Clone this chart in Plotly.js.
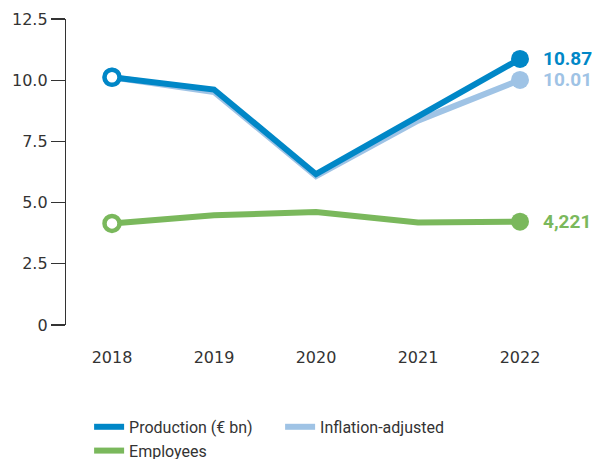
<!DOCTYPE html>
<html><head><meta charset="utf-8">
<script src="https://cdn.plot.ly/plotly-3.0.1.min.js"></script>
<style>html,body{margin:0;padding:0;background:#fff}</style>
</head><body>
<div id="chart" style="width:598px;height:459px"></div>
<script>
const years = [2018, 2019, 2020, 2021, 2022];
const tickLabels = ["2018", "2019", "2020", "2021", "2022"];
const production = [10.12, 9.62, 6.16, 8.5, 10.87];
const inflationAdjusted = [10.12, 9.52, 6.08, 8.35, 10.01];
const employees = [4.15, 4.48, 4.62, 4.19, 4.221];
const endLabels = ["10.87", "10.01", "4,221"];

const cProd = "#0087c7", cInfl = "#9fc3e5", cEmp = "#7ab85c";

function lineTrace(y, name, color, rank){
  return {x: years, y: y, name: name, mode: "lines", legendrank: rank,
          line: {color: color, width: 6}};
}
function markerTrace(y, color){
  return {x: [years[0], years[4]], y: [y[0], y[4]], mode: "markers", showlegend: false,
          marker: {size: [15, 18], opacity: 1, color: ["#ffffff", color],
                   line: {color: color, width: [4.5, 0]}}};
}

const traces = [
  lineTrace(inflationAdjusted, "Inflation-adjusted", cInfl, 2),
  markerTrace(inflationAdjusted, cInfl),
  lineTrace(production, "Production (€ bn)", cProd, 1),
  markerTrace(production, cProd),
  lineTrace(employees, "Employees", cEmp, 3),
  markerTrace(employees, cEmp)
];

const endVals = [production[4], inflationAdjusted[4], employees[4]];
const endColors = [cProd, cInfl, cEmp];
const annotations = endLabels.map((t, i) => ({
  x: years[4], y: endVals[i], xref: "x", yref: "y", text: "<b>" + t + "</b>",
  showarrow: false, xanchor: "left", xshift: 21,
  font: {family: "Roboto", size: 19, color: endColors[i]}
}));

const tickFont = {family: "DejaVu Sans", size: 16, color: "#333"};

const layout = {
  width: 598, height: 459,
  margin: {l: 66, r: 32, t: 19, b: 134},
  paper_bgcolor: "#fff", plot_bgcolor: "#fff",
  showlegend: true,
  legend: {orientation: "h", xref: "container", yref: "container", x: 0.149, y: 0.107,
           xanchor: "left", yanchor: "top", entrywidth: 146, tracegroupgap: 0,
           font: {family: "Roboto", size: 16, color: "#333"}, traceorder: "normal"},
  xaxis: {range: [2017.549, 2022.451], tickvals: years, ticktext: tickLabels,
          showgrid: false, zeroline: false, showline: false,
          ticks: "outside", ticklen: 18, tickcolor: "rgba(0,0,0,0)",
          tickfont: tickFont},
  yaxis: {range: [0, 12.5], tickvals: [0, 2.5, 5, 7.5, 10, 12.5],
          ticktext: ["0", "2.5", "5.0", "7.5", "10.0", "12.5"],
          showgrid: false, zeroline: false, showline: true, linecolor: "#333", linewidth: 1.2,
          ticks: "outside", ticklen: 14, tickcolor: "#333", tickwidth: 1.2,
          tickfont: tickFont},
  annotations: annotations
};

Plotly.newPlot("chart", traces, layout, {displayModeBar: false, staticPlot: true});
</script>
</body></html>
